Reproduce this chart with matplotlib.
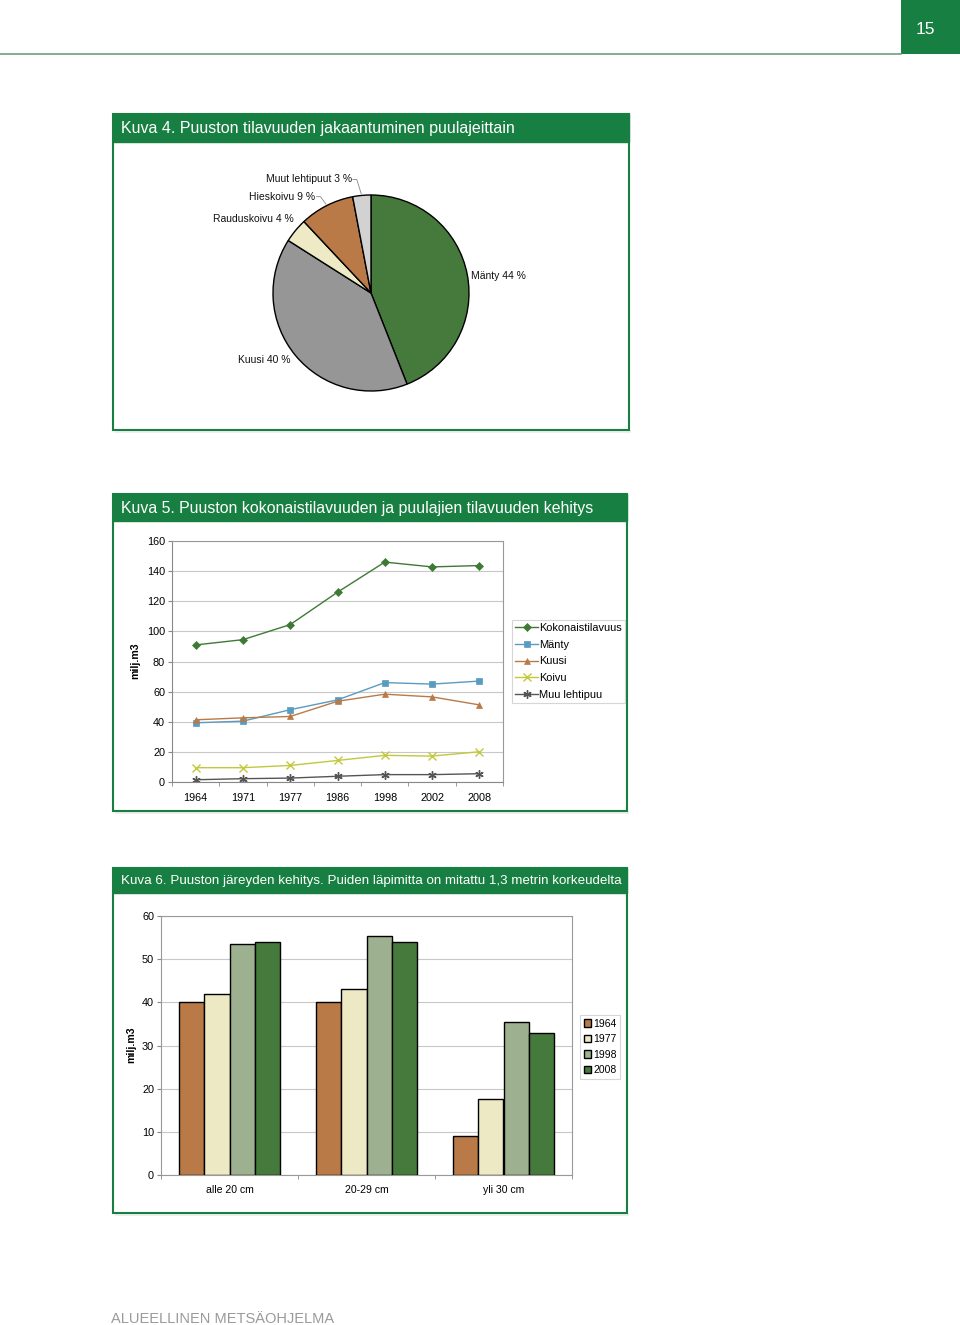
import matplotlib
matplotlib.use("Agg")
import matplotlib.pyplot as plt
from matplotlib.patches import Rectangle
import numpy as np

plt.rcParams['font.family'] = ['Liberation Sans', 'DejaVu Sans']

# ---------------- data ----------------
pie_labels = ["Mänty 44 %", "Kuusi 40 %", "Rauduskoivu 4 %", "Hieskoivu 9 %", "Muut lehtipuut 3 %"]
pie_values = [44, 40, 4, 9, 3]
pie_colors = ["#467a3c", "#969696", "#efeac6", "#b97a48", "#d2d2d2"]

years = ["1964", "1971", "1977", "1986", "1998", "2002", "2008"]
kokonais = [91, 94.5, 104.5, 126, 146, 142.8, 143.7]
manty = [39.3, 40.4, 48, 54.5, 66, 65, 67]
kuusi = [41.3, 42.6, 43.5, 53.6, 58.3, 56.5, 51.2]
koivu = [9.5, 9.5, 11, 14.3, 17.7, 17.2, 20.1]
muu = [1.5, 2.2, 2.6, 3.8, 4.9, 4.9, 5.5]
line_names = ["Kokonaistilavuus", "Mänty", "Kuusi", "Koivu", "Muu lehtipuu"]
line_colors = ["#3e7a35", "#5a9bc0", "#b97a48", "#c3c83a", "#555555"]

bar_cats = ["alle 20 cm", "20-29 cm", "yli 30 cm"]
bar_years = ["1964", "1977", "1998", "2008"]
bar_vals = {
    "1964": [40, 40, 9],
    "1977": [42, 43, 17.7],
    "1998": [53.4, 55.3, 35.5],
    "2008": [53.9, 53.9, 32.9],
}
bar_colors = ["#b97a48", "#ede9c4", "#9db08f", "#467a3c"]

GREEN = "#187f42"
W, H = 960, 1325

fig = plt.figure(figsize=(W / 100, H / 100), dpi=100)


def rect(x0, y0, x1, y1):
    """pixel box (top-left origin) -> figure fraction [l, b, w, h]"""
    return [x0 / W, 1 - y1 / H, (x1 - x0) / W, (y1 - y0) / H]


def fx(x):
    return x / W


def fy(y):
    return 1 - y / H


# ---------------- page header / footer ----------------
fig.add_artist(plt.Line2D([0, fx(901)], [fy(53.5), fy(53.5)], color="#6f9f80", lw=1.2))
fig.add_artist(Rectangle((fx(901), fy(54)), fx(59), 54 / H, color=GREEN, lw=0))
fig.text(fx(925), fy(29), "15", color="white", fontsize=12.5, ha="center", va="center")
fig.text(fx(111), fy(1319), "ALUEELLINEN METSÄOHJELMA", color="#9a9a9a", fontsize=10.55,
         ha="left", va="center")


def panel(x0, y0, x1, y1, bar_h, title, tsize):
    # shadow
    fig.add_artist(Rectangle((fx(x0 + 2), fy(y1 + 3)), (x1 - x0) / W, 3 / H,
                             color="#eeeeee", lw=0, zorder=0))
    fig.add_artist(Rectangle((fx(x0), fy(y1)), (x1 - x0) / W, (y1 - y0) / H,
                             facecolor="white", edgecolor=GREEN, lw=1.5, zorder=1))
    fig.add_artist(Rectangle((fx(x0), fy(y0 + bar_h)), (x1 - x0) / W, bar_h / H,
                             facecolor=GREEN, edgecolor=GREEN, lw=1.0, zorder=2))
    fig.text(fx(x0 + 8), fy(y0 + bar_h / 2 + 0.5), title, color="white", fontsize=tsize,
             ha="left", va="center", zorder=3)


panel(113, 114, 629, 430, 28, "Kuva 4. Puuston tilavuuden jakaantuminen puulajeittain", 11.5)
panel(113, 494, 627, 811, 27, "Kuva 5. Puuston kokonaistilavuuden ja puulajien tilavuuden kehitys", 11.45)
panel(113, 868, 627, 1213, 25,
      "Kuva 6. Puuston järeyden kehitys. Puiden läpimitta on mitattu 1,3 metrin korkeudelta", 9.6)

# ---------------- pie ----------------
axp = fig.add_axes(rect(114, 143, 628, 429), zorder=5)
cx, cy, r = 371, H - 293, 98
wedges, texts = axp.pie(pie_values, colors=pie_colors, startangle=90, counterclock=False,
                        center=(cx, cy), radius=r, labels=pie_labels, labeldistance=1.07,
                        wedgeprops=dict(edgecolor="black", linewidth=1.0),
                        textprops=dict(fontsize=7.45, color="#111111"))
axp.set_xlim(114, 628)
axp.set_ylim(H - 429, H - 143)
axp.set_aspect("equal")
axp.axis("off")
for w, t in zip(wedges, texts):
    ang = np.deg2rad((w.theta1 + w.theta2) / 2)
    t.set_ha("left" if np.cos(ang) > 0 else "right")
    t.set_va("center")
# label offsets from the wedge edge (Excel style), leader lines for the small slices
offsets = {0: (4, -1.5, False, "left"), 2: (-2, 12, False, "right"),
           3: (-11, 9, True, "right"), 4: (-10, 16, True, "right")}
for i, (dx, dy, leader, ha) in offsets.items():
    w = wedges[i]
    ang = np.deg2rad((w.theta1 + w.theta2) / 2)
    px, py = cx + r * np.cos(ang), cy + r * np.sin(ang)
    tx, ty = px + dx, py + dy
    texts[i].set_position((tx, ty))
    texts[i].set_ha(ha)
    if leader:
        axp.plot([tx + 1, tx + 5, px - 0.5], [ty, ty, py + 1.5], color="#888888", lw=0.6)

# ---------------- line chart ----------------
axl = fig.add_axes(rect(172, 541, 503, 782), zorder=5)
x = np.arange(len(years))
series = [kokonais, manty, kuusi, koivu, muu]
markers = ["D", "s", "^", "x", (6, 2, 0)]
msizes = [4, 5, 5, 5.5, 6]
for s, name, c, m, ms in zip(series, line_names, line_colors, markers, msizes):
    axl.plot(x, s, color=c, marker=m, markersize=ms, lw=1.0, label=name,
             markeredgewidth=1.0 if m in ("x", (6, 2, 0)) else 0.5)
axl.set_xlim(-0.5, len(years) - 0.5)
axl.set_ylim(0, 160)
axl.set_yticks(range(0, 161, 20))
axl.set_xticks(x)
axl.set_xticklabels(years)
axl.set_xticks(np.arange(-0.5, len(years), 1), minor=True)
axl.tick_params(axis="x", which="major", length=0, pad=8, labelsize=7.8)
axl.tick_params(axis="x", which="minor", length=3, color="#888888")
axl.tick_params(axis="y", length=3, color="#888888", labelsize=7.8, pad=2)
axl.grid(axis="y", color="#c8c8c8", lw=0.8)
axl.set_axisbelow(True)
for sp in axl.spines.values():
    sp.set_color("#999999")
    sp.set_linewidth(0.8)
axl.spines["left"].set_color("#888888")
axl.spines["bottom"].set_color("#888888")
fig.text(fx(135), fy(661), "milj.m3", rotation=90, fontsize=7.6, fontweight="bold",
         ha="center", va="center")
leg = axl.legend(loc="upper left", bbox_to_anchor=((512 - 172) / 331, 1 - (620 - 541) / 241),
                 frameon=True, fancybox=False, fontsize=7.9, handlelength=2.1,
                 handletextpad=0.1, borderpad=0.3, labelspacing=0.6, borderaxespad=0)
leg.get_frame().set_edgecolor("#cccccc")
leg.get_frame().set_linewidth(0.8)

# ---------------- bar chart ----------------
axb = fig.add_axes(rect(161, 916, 572, 1175), zorder=5)
xb = np.arange(len(bar_cats))
bw = 0.1825
for i, (yr, col) in enumerate(zip(bar_years, bar_colors)):
    axb.bar(xb + (i - 1.5) * bw, bar_vals[yr], width=bw, color=col, edgecolor="black",
            linewidth=1.0, label=yr, zorder=3)
axb.set_xlim(-0.5, len(bar_cats) - 0.5)
axb.set_ylim(0, 60)
axb.set_yticks(range(0, 61, 10))
axb.set_xticks(xb)
axb.set_xticklabels(bar_cats)
axb.set_xticks(np.arange(-0.5, len(bar_cats), 1), minor=True)
axb.tick_params(axis="x", which="major", length=0, pad=7, labelsize=7.6)
axb.tick_params(axis="x", which="minor", length=3, color="#888888")
axb.tick_params(axis="y", length=3, color="#888888", labelsize=7.8, pad=2)
axb.grid(axis="y", color="#c8c8c8", lw=0.8, zorder=0)
axb.set_axisbelow(True)
for sp in axb.spines.values():
    sp.set_color("#999999")
    sp.set_linewidth(0.8)
fig.text(fx(131), fy(1045), "milj.m3", rotation=90, fontsize=7.6, fontweight="bold",
         ha="center", va="center")
legb = axb.legend(loc="upper left", bbox_to_anchor=((580 - 161) / 411, 1 - (1015 - 916) / 259),
                  frameon=True, fancybox=False, fontsize=7.5, handlelength=0.7, handleheight=0.7,
                  handletextpad=0.2, borderpad=0.35, labelspacing=0.53, borderaxespad=0)
legb.get_frame().set_edgecolor("#cccccc")
legb.get_frame().set_linewidth(0.8)

fig.savefig("out.png", dpi=100)
